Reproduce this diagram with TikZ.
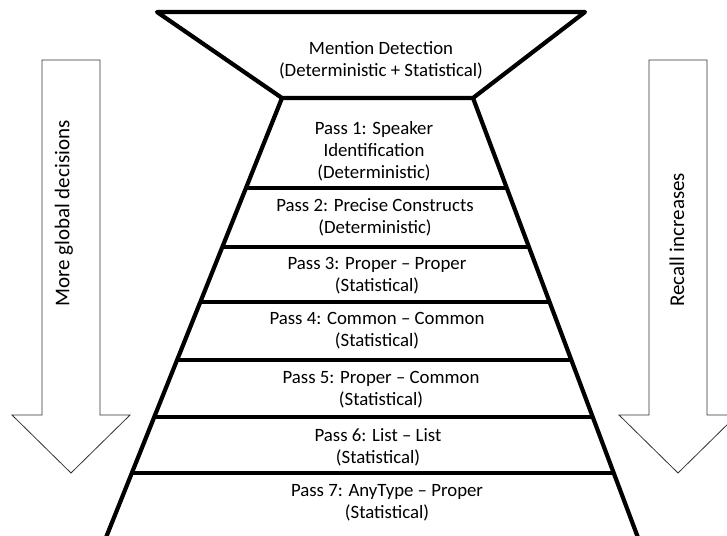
\documentclass[tikz,border=0pt]{standalone}
\usepackage{fontspec}
\setmainfont{Carlito}
\usetikzlibrary{calc}
\tikzset{
  thickline/.style={line width=4.2pt, line join=round, black},
  bigarrow/.style={draw=black!80, line width=0.8pt, fill=white, line join=miter},
  passtext/.style={align=center, inner sep=0pt, font=\fontsize{18.8}{22}\selectfont},
  sidetext/.style={rotate=90, anchor=west, inner sep=0pt, font=\fontsize{21}{25}\selectfont},
}
\begin{document}
\begin{tikzpicture}[x=1pt,y=-1pt]
\useasboundingbox (0,0) rectangle (727,535);
\clip (0,0) rectangle (727,535);
\fill[white] (0,0) rectangle (727,535);
% side arrows
\draw[bigarrow] (42,60) -- (100,60) -- (100,415) -- (130,415) -- (71,473) -- (12,415) -- (42,415) -- cycle;
\draw[bigarrow] (649,60) -- (707,60) -- (707,415) -- (737,415) -- (678,473) -- (619,415) -- (649,415) -- cycle;
\node[sidetext] (lefttxt) at (64,307) {More global decisions};
\node[sidetext] (righttxt) at (677,307) {Recall increases};
% funnel
\coordinate (FTL) at (157,12);
\coordinate (FTR) at (585,12);
\coordinate (TR) at (473,98);
\coordinate (TL) at (282,98);
\draw[thickline] (FTL) -- (FTR) -- (TR) -- (TL) -- cycle;
% pyramid sides
\coordinate (BL) at (107,535);
\coordinate (BR) at (637,535);
\draw[thickline] (TL) -- ($(TL)!1.05!(BL)$);
\draw[thickline] (TR) -- ($(TR)!1.05!(BR)$);
% separators
\foreach \yy in {188,247,302,360,417,473}{
  \pgfmathsetmacro{\ff}{(\yy-98)/437}
  \draw[thickline] ($(TL)!\ff!(BL)$) -- ($(TR)!\ff!(BR)$);
}
% texts
\node[passtext] (md) at (381,60) {Mention Detection\\(Deterministic + Statistical)};
\node[passtext] (p1) at (374,151) {Pass 1: Speaker\\Identification\\(Deterministic)};
\node[passtext] (p2) at (375,217) {Pass 2: Precise Constructs\\(Deterministic)};
\node[passtext] (p3) at (377,276) {Pass 3: Proper – Proper\\(Statistical)};
\node[passtext] (p4) at (377,331) {Pass 4: Common – Common\\(Statistical)};
\node[passtext] (p5) at (381,390) {Pass 5: Proper – Common\\(Statistical)};
\node[passtext] (p6) at (378,447) {Pass 6: List – List\\(Statistical)};
\node[passtext] (p7) at (387,503) {Pass 7: AnyType – Proper\\(Statistical)};
\end{tikzpicture}
\end{document}
